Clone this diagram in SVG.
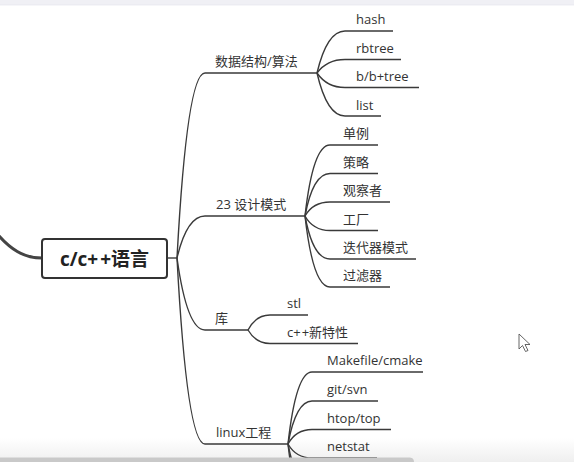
<svg xmlns="http://www.w3.org/2000/svg" width="574" height="462" viewBox="0 0 574 462">
<style>
.t{font-family:"Open Sans","Noto Sans CJK SC",sans-serif;font-size:13px;fill:#333}
.c{fill:none;stroke:#3a3a3a;stroke-width:1.4}
</style>
<defs>
<linearGradient id="fade" x1="0" y1="0" x2="0" y2="1">
<stop offset="0" stop-color="#ffffff"/>
<stop offset="1" stop-color="#efefef"/>
</linearGradient>
</defs>
<rect width="574" height="462" fill="#fff"/>
<rect x="0" y="438" width="574" height="24" fill="url(#fade)"/>
<rect x="0" y="0" width="574" height="4.5" fill="#f0f0f5"/>
<rect x="0" y="4.5" width="574" height="0.8" fill="#e2e2ea"/>
<g id="connectors">
<path d="M-6,230 C10,250 24,258 42,258" fill="none" stroke="#444" stroke-width="3"/>
<path class="c" d="M167,258 H177"/>
<path class="c" d="M177,258 Q187,73 205,73 H317"/>
<path class="c" d="M177,258 Q187,216 205,216 H305"/>
<path class="c" d="M177,258 Q187,330 205,330 H248"/>
<path class="c" d="M177,258 Q187,444 205,444 H288"/>
<path class="c" d="M317,73 Q327,31 345,31 H393"/>
<path class="c" d="M317,73 Q327,59.5 345,59.5 H401"/>
<path class="c" d="M317,73 Q327,87.5 345,87.5 H419"/>
<path class="c" d="M317,73 Q327,116 345,116 H381"/>
<path class="c" d="M305,216 Q313,145 330,145 H378"/>
<path class="c" d="M305,216 Q313,173.5 330,173.5 H378"/>
<path class="c" d="M305,216 Q313,202 330,202 H390"/>
<path class="c" d="M305,216 Q313,230.5 330,230.5 H378"/>
<path class="c" d="M305,216 Q313,259 330,259 H416"/>
<path class="c" d="M305,216 Q313,287 330,287 H390"/>
<path class="c" d="M248,330 Q256,315 270,315 H308"/>
<path class="c" d="M248,330 Q256,343.5 270,343.5 H358"/>
<path class="c" d="M288,444 Q296,372 312,372 H423"/>
<path class="c" d="M288,444 Q296,401 312,401 H378"/>
<path class="c" d="M288,444 Q296,429.5 312,429.5 H391"/>
<path class="c" d="M288,444 Q296,458 312,458 H377"/>
<path class="c" d="M288,444 Q296,487 312,487 H380"/>
<path class="c" d="M288,444 Q296,516 312,516 H380"/>
</g>
<g id="root">
<rect x="42" y="239" width="125" height="39" rx="3" fill="#fff" stroke="#333" stroke-width="2"/>
<text x="104.5" y="265.5" text-anchor="middle" style="font-family:'Open Sans','Noto Sans CJK SC',sans-serif;font-size:19px;font-weight:bold;fill:#222">c/c+<tspan dx="2">+</tspan>语言</text>
</g>
<g id="n-ds"><text class="t" x="215" y="66">数据结构/算法</text></g>
<g id="n-hash"><text class="t" x="356" y="24">hash</text></g>
<g id="n-rbtree"><text class="t" x="356" y="53">rbtree</text></g>
<g id="n-btree"><text class="t" x="356" y="81">b/b+tree</text></g>
<g id="n-list"><text class="t" x="356" y="109.5">list</text></g>
<g id="n-dp"><text class="t" x="216" y="209">23 设计模式</text></g>
<g id="n-singleton"><text class="t" x="343" y="138">单例</text></g>
<g id="n-strategy"><text class="t" x="343" y="166.5">策略</text></g>
<g id="n-observer"><text class="t" x="343" y="195">观察者</text></g>
<g id="n-factory"><text class="t" x="343" y="223.5">工厂</text></g>
<g id="n-iterator"><text class="t" x="343" y="252">迭代器模式</text></g>
<g id="n-filter"><text class="t" x="343" y="280">过滤器</text></g>
<g id="n-lib"><text class="t" x="215" y="323">库</text></g>
<g id="n-stl"><text class="t" x="287" y="308">stl</text></g>
<g id="n-cpp"><text class="t" x="287" y="336.5">c+<tspan dx="1">+</tspan>新特性</text></g>
<g id="n-linux"><text class="t" x="216" y="437">linux工程</text></g>
<g id="n-make"><text class="t" x="327" y="365">Makefile/cmake</text></g>
<g id="n-git"><text class="t" x="327" y="394">git/svn</text></g>
<g id="n-htop"><text class="t" x="327" y="422.5">htop/top</text></g>
<g id="n-netstat"><text class="t" x="327" y="451">netstat</text></g>
<path d="M0,457.5 H410 A4.5,4.5 0 0 1 414,462 H0 Z" fill="#c9c9c9"/>
<path d="M519,334 L519,349 L522.5,345.5 L525.5,351.5 L528,350.5 L525,344.5 L530,344.5 Z" fill="#fff" stroke="#555" stroke-width="0.9" stroke-linejoin="round"/>
</svg>
